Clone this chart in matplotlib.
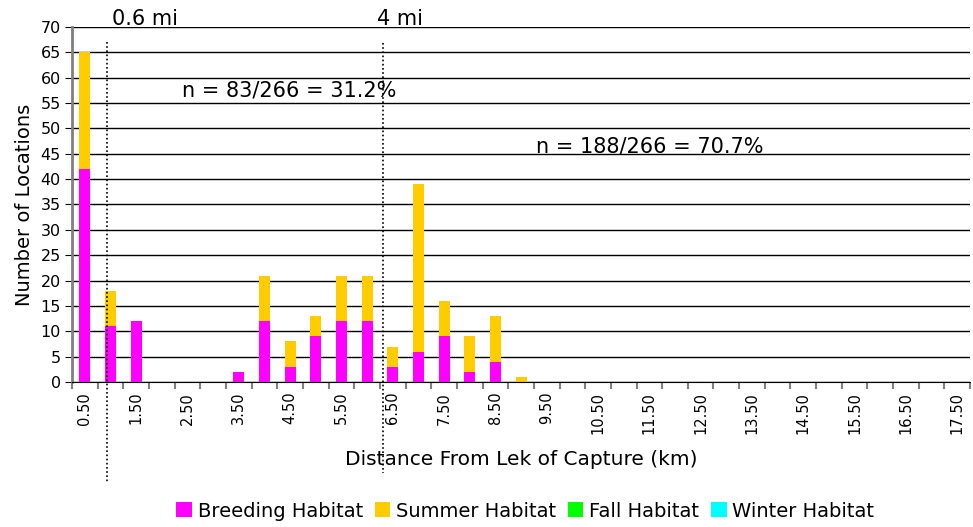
import numpy as np
import matplotlib
matplotlib.use("Agg")
import matplotlib.pyplot as plt
import matplotlib.transforms as mtransforms
from matplotlib.patches import Patch

# === data ===
distance_km = [0.5 * i for i in range(1, 36)]          # 0.50 .. 17.50
breeding = [42, 11, 12, 0, 0, 0, 2, 12, 3, 9, 12, 12, 3, 6, 9, 2, 4, 0] + [0] * 17
summer = [23, 7, 0, 0, 0, 0, 0, 9, 5, 4, 9, 9, 4, 33, 7, 7, 9, 1] + [0] * 17
fall = [0] * 35
winter = [0] * 35

series_names = ["Breeding Habitat", "Summer Habitat", "Fall Habitat", "Winter Habitat"]
series_colors = ["#FF00FF", "#FFCC00", "#00FF00", "#00FFFF"]

# dotted marker lines (category index position) and their labels
mile_lines = [0.86, 11.62]
mile_labels = ["0.6 mi", "4 mi"]

plt.rcParams["font.family"] = ["DejaVu Sans"]

fig = plt.figure(figsize=(9.73, 5.27), dpi=100)
ax = fig.add_axes([0.074, 0.275, 0.923, 0.674])

x = np.arange(len(distance_km))
bottom = np.zeros(len(x))
for vals, name, col in zip([breeding, summer, fall, winter], series_names, series_colors):
    vals = np.array(vals, dtype=float)
    ax.bar(x, vals, width=0.43, bottom=bottom, color=col, linewidth=0, zorder=3)
    bottom += vals

ax.set_xlim(-0.5, len(x) - 0.5)
ax.set_ylim(0, 70)
ax.set_yticks(range(0, 71, 5))
ax.yaxis.grid(True, color="black", linewidth=1.0, zorder=0)
ax.tick_params(axis="y", labelsize=11.5, length=5, color="black", pad=3)

# category labels every other bar, tick marks between categories
ax.set_xticks(x[::2])
ax.set_xticklabels([f"{d:.2f}" for d in distance_km[::2]], rotation=90, fontsize=10.5)
ax.set_xticks(np.arange(-0.5, len(x), 1), minor=True)
ax.tick_params(axis="x", which="major", length=0, pad=7)
ax.tick_params(axis="x", which="minor", length=5, color="#808080", width=1.5)

for s in ["top", "right"]:
    ax.spines[s].set_visible(False)
ax.spines["left"].set_color("#808080")
ax.spines["left"].set_linewidth(2)
ax.spines["bottom"].set_color("black")
ax.spines["bottom"].set_zorder(4)

ax.set_ylabel("Number of Locations", fontsize=14, labelpad=5)
ax.set_xlabel("Distance From Lek of Capture (km)", fontsize=14.5, labelpad=12)

# dotted vertical lines reaching below the axis
trans = mtransforms.blended_transform_factory(ax.transData, ax.transAxes)
ax.plot([mile_lines[0]] * 2, [0.958, -0.285], transform=trans, clip_on=False,
        color="black", linestyle=(0, (1, 1.5)), linewidth=1.2, zorder=5)
ax.plot([mile_lines[1]] * 2, [0.955, -0.256], transform=trans, clip_on=False,
        color="black", linestyle=(0, (1, 1.5)), linewidth=1.2, zorder=5)

ax.text(mile_lines[0] + 0.2, 1.023, mile_labels[0], transform=trans, fontsize=15, va="center")
ax.text(mile_lines[1] - 0.25, 1.023, mile_labels[1], transform=trans, fontsize=15, va="center")

ax.text(3.78, 57.4, "n = 83/266 = 31.2%", fontsize=15, va="center", zorder=6)
ax.text(17.6, 46.4, "n = 188/266 = 70.7%", fontsize=15, va="center", zorder=6)

handles = [Patch(facecolor=c, edgecolor="none") for c in series_colors]
fig.legend(handles, series_names, loc="center", bbox_to_anchor=(0.54, 0.03), ncol=4,
           frameon=False, fontsize=14, handlelength=0.8, handleheight=0.8,
           handletextpad=0.3, columnspacing=0.6)

fig.savefig("out.png", dpi=100)
